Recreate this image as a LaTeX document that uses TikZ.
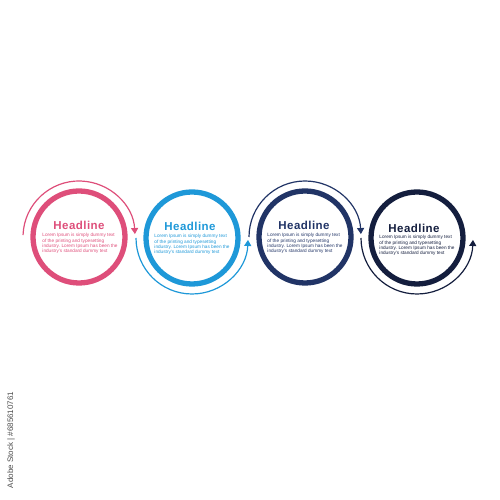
\documentclass[tikz,border=0pt]{standalone}
\usepackage{fontspec}
\setmainfont{Liberation Sans}
\usetikzlibrary{calc,arrows.meta}
\definecolor{pinkring}{RGB}{222,78,122}
\definecolor{bluering}{RGB}{30,152,216}
\definecolor{navyring}{RGB}{33,52,102}
\definecolor{darkring}{RGB}{20,30,62}
\def\centerarc[#1](#2)(#3:#4:#5){\draw[#1] ($(#2)+({#5*cos(#3)},{#5*sin(#3)})$) arc (#3:#4:#5);}
\tikzset{
  ring/.style={line width=5.3pt},
  flowarc/.style={line width=1.2pt, -{Triangle[length=6pt,width=7pt]}},
  headline/.style={font=\fontsize{11.5}{13}\bfseries\addfontfeatures{LetterSpace=4}, inner sep=0pt},
  bodytext/.style={font=\fontsize{4.7}{5.3}\selectfont, align=left, inner sep=0pt}
}
\begin{document}
\begin{tikzpicture}[x=1pt,y=1pt]
			%%%%% START %%%%%
			\useasboundingbox (0,0) rectangle (500,500);
			
			\draw[ring, pinkring] (79,263) circle (46);
			\centerarc[flowarc, pinkring](79,263)(178:3:56);
			\node[headline, text=pinkring] (head1) at (79,275) {Headline};
			\node[bodytext, text=pinkring] (body1) at (80,256.5) {Lorem Ipsum is simply dummy text\\of the printing and typesetting\\industry. Lorem Ipsum has been the\\industry's standard dummy text};
			
			\draw[ring, bluering] (192,262) circle (46);
			\centerarc[flowarc, bluering](192,262)(180:358:56);
			\node[headline, text=bluering] (head2) at (190,274) {Headline};
			\node[bodytext, text=bluering] (body2) at (192,255.5) {Lorem Ipsum is simply dummy text\\of the printing and typesetting\\industry. Lorem Ipsum has been the\\industry's standard dummy text};
			
			\draw[ring, navyring] (305,263) circle (46);
			\centerarc[flowarc, navyring](305,263)(180:3:56);
			\node[headline, text=navyring] (head3) at (304,275) {Headline};
			\node[bodytext, text=navyring] (body3) at (305,256.5) {Lorem Ipsum is simply dummy text\\of the printing and typesetting\\industry. Lorem Ipsum has been the\\industry's standard dummy text};
			
			\draw[ring, darkring] (417,262) circle (46);
			\centerarc[flowarc, darkring](417,262)(180:358:56);
			\node[headline, text=darkring] (head4) at (414,272) {Headline};
			\node[bodytext, text=darkring] (body4) at (417,254.5) {Lorem Ipsum is simply dummy text\\of the printing and typesetting\\industry. Lorem Ipsum has been the\\industry's standard dummy text};
			
			\node[rotate=90, text=black!70, font=\fontsize{8}{9}\selectfont] (stockid) at (11,60) {Adobe Stock | \#685610761};
			
			%%%%% END %%%%%
\end{tikzpicture}
\end{document}
